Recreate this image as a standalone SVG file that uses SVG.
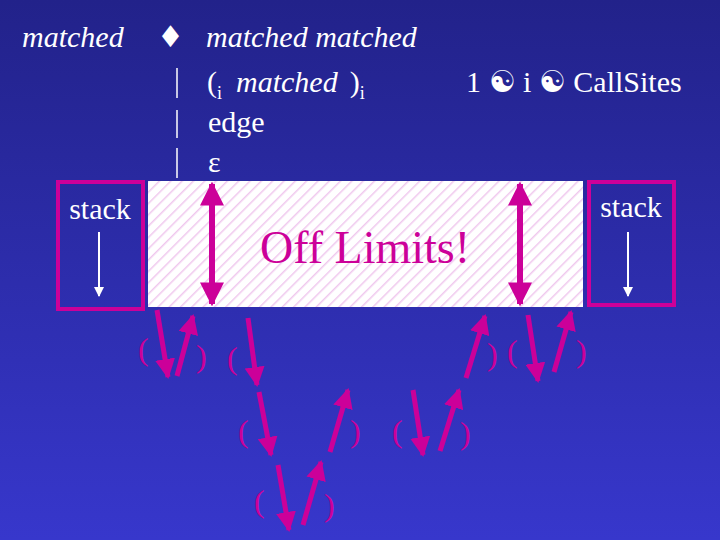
<svg xmlns="http://www.w3.org/2000/svg" width="720" height="540" viewBox="0 0 720 540">
<defs>
<linearGradient id="bg" x1="0" y1="0" x2="0" y2="1"><stop offset="0" stop-color="#22228a"/><stop offset="1" stop-color="#3737cc"/></linearGradient>
<pattern id="hatch" width="8" height="8" patternUnits="userSpaceOnUse" patternTransform="rotate(45)"><rect width="8" height="8" fill="#fff"/><line x1="0" y1="0" x2="0" y2="8" stroke="#f0c8ee" stroke-width="3"/></pattern>
<marker id="ah" viewBox="0 0 10 10" refX="9" refY="5" markerWidth="4" markerHeight="4" orient="auto-start-reverse"><path d="M0,0 L10,5 L0,10 z" fill="#cc0099"/></marker>
<marker id="wh" viewBox="0 0 10 10" refX="9" refY="5" markerWidth="6" markerHeight="5" orient="auto"><path d="M0,0 L10,5 L0,10 z" fill="#fff"/></marker>
</defs>
<style>
text{font-family:"Liberation Serif","DejaVu Serif Condensed","DejaVu Serif",serif}
.t{fill:#fff;font-size:30px}
.i{font-style:italic}
.p{fill:#cc0099;font-size:32px}
.a{stroke:#cc0099;stroke-width:5;fill:none;marker-end:url(#ah)}
.box{fill:none;stroke:#cc0099;stroke-width:4}
.w{stroke:#fff;stroke-width:2;marker-end:url(#wh)}
</style>
<rect width="720" height="540" fill="url(#bg)"/>
<g id="grammar">
<text class="t i" x="22" y="47">matched</text>
<text class="t" x="157" y="47" style="font-family:'DejaVu Sans',sans-serif">♦</text>
<text class="t i" x="206" y="47">matched  matched</text>
<line x1="177" y1="68" x2="177" y2="98" stroke="#fff" stroke-width="1.5"/>
<line x1="177" y1="110" x2="177" y2="138" stroke="#fff" stroke-width="1.5"/>
<line x1="177" y1="148" x2="177" y2="178" stroke="#fff" stroke-width="1.5"/>
<text class="t" x="207" y="92">(<tspan font-size="18" dy="7">i</tspan><tspan class="i" dy="-7" dx="14">matched</tspan><tspan dx="12">)</tspan><tspan font-size="18" dy="7">i</tspan></text>
<text class="t" x="466" y="92">1 ☯ i ☯ CallSites</text>
<text class="t" x="208" y="132">edge</text>
<text class="t" x="208" y="172">ε</text>
</g>
<g id="offlimits">
<rect x="148" y="181" width="435" height="126" fill="url(#hatch)"/>
<text x="365" y="263" text-anchor="middle" font-size="46" fill="#cc0099">Off Limits!</text>
<path d="M212,184 V304" class="a" style="marker-start:url(#ah);stroke-width:6"/>
<path d="M520,184 V304" class="a" style="marker-start:url(#ah);stroke-width:6"/>
</g>
<g id="stack-left">
<rect x="58" y="182" width="85" height="127" class="box"/>
<text class="t" x="100" y="219" font-size="24" text-anchor="middle">stack</text>
<line x1="99" y1="232" x2="99" y2="296" class="w"/>
</g>
<g id="stack-right">
<rect x="589" y="182" width="85" height="123" class="box"/>
<text class="t" x="631" y="217" font-size="24" text-anchor="middle">stack</text>
<line x1="628" y1="232" x2="628" y2="296" class="w"/>
</g>
<g id="connectors">
<line x1="157" y1="310" x2="168" y2="377" class="a"/>
<line x1="177" y1="376" x2="193" y2="316" class="a"/>
<line x1="248" y1="318" x2="257" y2="385" class="a"/>
<line x1="259" y1="392" x2="271" y2="455" class="a"/>
<line x1="330" y1="452" x2="348" y2="390" class="a"/>
<line x1="278" y1="465" x2="289" y2="530" class="a"/>
<line x1="303" y1="525" x2="321" y2="462" class="a"/>
<line x1="413" y1="390" x2="423" y2="455" class="a"/>
<line x1="440" y1="451" x2="459" y2="390" class="a"/>
<line x1="466" y1="378" x2="485" y2="316" class="a"/>
<line x1="528" y1="315" x2="538" y2="381" class="a"/>
<line x1="554" y1="372" x2="571" y2="312" class="a"/>
</g>
<g id="parens">
<text class="p" x="138" y="360">(</text>
<text class="p" x="196" y="367">)</text>
<text class="p" x="227" y="369">(</text>
<text class="p" x="238" y="442">(</text>
<text class="p" x="350" y="442">)</text>
<text class="p" x="254" y="512">(</text>
<text class="p" x="324" y="516">)</text>
<text class="p" x="392" y="442">(</text>
<text class="p" x="460" y="444">)</text>
<text class="p" x="487" y="365">)</text>
<text class="p" x="507" y="362">(</text>
<text class="p" x="576" y="362">)</text>
</g>
</svg>
